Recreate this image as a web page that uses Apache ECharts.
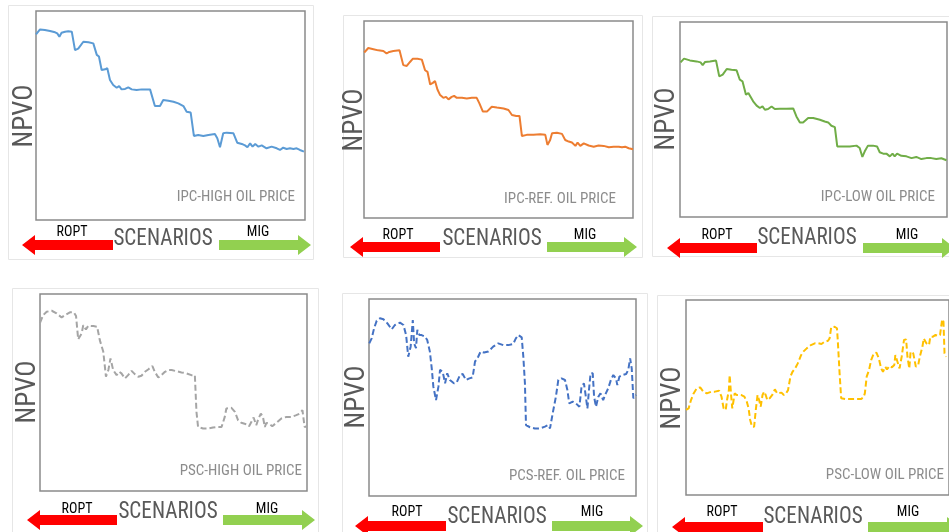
<!DOCTYPE html>
<html>
<head>
<meta charset="utf-8">
<script src="https://cdn.jsdelivr.net/npm/echarts@6/dist/echarts.min.js"></script>
<style>html,body{margin:0;padding:0;background:#fff}#c{width:949px;height:532px}</style>
</head>
<body>
<div id="c"></div>
<script>
// ---- DATA (scenario index 0-100, NPVO relative value 0-100) ----
var panelTitles = ["IPC-HIGH OIL PRICE","IPC-REF. OIL PRICE","IPC-LOW OIL PRICE","PSC-HIGH OIL PRICE","PCS-REF. OIL PRICE","PSC-LOW OIL PRICE"];
var yAxisName = "NPVO";
var xAxisName = "SCENARIOS";
var leftArrowLabel = "ROPT";
var rightArrowLabel = "MIG";

var scen1 = [0,1.5,3.3,5.2,7.1,7.9,8.7,9.5,10.8,12.0,13.3,14.5,15.7,17.6,19.5,21.3,22.6,23.4,24.4,25.7,26.5,27.5,28.7,30.0,30.9,31.8,33.1,34.3,35.6,37.4,39.3,41.1,42.4,44.2,46.1,47.3,49.2,51.1,52.9,54.8,56.0,57.5,58.7,60.3,62.2,64.1,66.5,67.4,68.4,69.6,70.9,73.4,74.8,76.5,77.7,78.6,79.6,80.5,81.5,82.7,83.9,85.7,87.6,89.5,90.7,91.9,93.2,94.4,95.7,96.9,98.1,99.6];
var npvo1 = [88.8,91.2,90.9,90.4,89.8,89.3,87.7,89.6,90.1,90.3,90.1,81.3,82.0,85.3,85.0,84.5,79.0,78.2,71.8,72.1,72.6,67.0,64.6,63.3,64.1,62.5,62.7,63.5,62.5,62.2,62.5,62.5,62.5,54.5,54.5,57.4,57.1,56.6,55.8,54.5,51.8,51.4,40.2,40.7,40.2,40.7,41.1,39.1,34.8,41.5,41.8,41.5,37.0,36.4,35.7,34.8,36.7,35.1,36.4,35.1,35.7,34.3,35.1,34.3,33.5,34.6,34.0,34.3,34.0,34.3,33.5,32.7];

var scen2 = [0.1,1.6,3.5,5.3,7.2,8.4,9.4,10.9,13.2,14.6,15.9,17.1,18.1,19.9,21.5,22.7,23.6,24.6,25.6,26.4,27.3,28.3,29.5,30.5,31.4,32.6,33.5,34.5,36.4,38.2,40.1,41.9,42.9,44.2,45.7,47.5,49.4,51.9,53.7,55.0,56.6,57.8,58.7,60.5,63.0,65.5,67.4,68.2,69.2,69.9,71.7,73.6,74.8,76.1,77.3,78.6,79.4,80.4,81.7,83.5,85.4,87.2,89.1,91.0,92.8,94.7,95.9,97.1,98.4,100];
var npvo2 = [84.0,86.3,85.7,85.1,84.8,83.5,84.3,84.8,85.1,77.6,77.2,79.2,80.8,80.8,80.4,75.0,74.2,67.8,68.6,69.5,65.2,62.4,61.0,61.5,60.2,61.5,62.0,61.0,61.0,60.7,61.0,61.0,58.2,54.0,54.0,56.5,56.1,55.6,54.8,52.3,51.8,51.8,41.6,42.2,42.2,42.5,42.2,37.1,39.6,43.0,43.3,42.7,39.6,38.8,38.3,36.6,38.3,36.6,37.9,36.8,36.2,36.8,36.6,35.9,36.2,36.2,35.9,36.2,35.4,34.9];

var scen3 = [0.2,1.5,3.7,6.2,7.7,8.5,9.4,11.2,13.5,14.7,16.0,17.5,19.3,21.2,22.4,23.4,24.7,25.6,26.2,27.4,28.7,29.9,30.9,31.8,33.0,34.3,35.5,37.4,39.9,42.4,43.6,44.9,46.1,48.0,49.9,52.4,54.2,55.5,56.7,58.0,58.9,61.1,63.6,66.1,67.3,68.3,69.2,70.4,72.3,73.8,74.8,76.1,77.3,78.6,79.6,80.4,81.3,82.9,84.8,86.7,88.5,90.4,92.3,94.1,96.0,97.9,99.8];
var npvo3 = [79.3,81.2,80.3,79.8,79.3,77.9,79.5,79.8,80.2,72.1,73.0,75.9,75.5,75.2,70.4,69.6,62.7,63.6,64.4,59.3,57.1,55.9,56.7,55.0,55.4,56.7,55.4,55.5,55.5,55.7,51.6,48.5,48.5,50.8,50.8,49.9,49.0,48.5,46.8,46.1,36.2,36.2,36.2,36.6,35.4,30.8,33.7,36.6,36.6,36.2,33.2,32.5,32.5,31.1,32.5,31.1,32.5,31.4,31.1,30.2,30.8,29.7,30.2,30.2,29.7,30.1,29.1];

var scen4 = [0,1.2,2.5,4.4,6.2,8.1,9.4,11.2,12.7,13.5,14.3,15.6,16.2,17.2,18.1,20.0,21.4,22.4,23.7,24.7,25.6,26.4,27.4,28.7,29.7,30.5,31.8,33.0,34.3,35.5,36.8,38.0,39.3,40.5,42.1,43.0,44.3,45.5,46.8,48.0,49.3,51.1,53.0,54.9,56.7,58.0,58.6,59.2,61.1,63.0,64.8,66.7,68.0,69.2,69.8,71.7,73.0,74.2,75.4,77.3,78.3,79.2,80.0,81.0,81.7,82.7,83.5,84.2,84.8,85.8,87.0,88.5,90.4,92.3,94.1,96.0,97.3,98.3,99.1,100];
var npvo4 = [85.4,89.3,91.0,91.5,90.2,88.1,89.3,90.7,90.7,88.8,77.0,80.0,84.2,82.0,83.9,83.7,83.4,76.6,70.7,58.0,61.4,67.3,61.4,58.8,60.5,59.7,57.1,58.8,61.0,59.3,58.0,58.5,60.5,61.7,63.4,60.5,57.6,58.8,60.5,61.4,61.4,60.8,60.2,59.7,58.8,58.8,40.2,32.5,31.7,31.7,32.2,32.5,32.5,37.6,41.9,42.2,40.2,35.9,34.6,33.9,32.9,35.1,37.3,33.4,36.3,39.3,37.6,32.5,34.6,34.2,32.9,34.6,36.8,37.6,37.6,38.5,39.3,41.0,32.5,32.9];

var scen5 = [0.1,1.0,1.9,2.9,4.1,5.4,6.9,8.5,9.7,11.6,12.9,13.9,14.7,15.6,16.4,16.9,17.6,18.1,18.9,19.7,21.0,21.8,22.8,23.5,24.1,25.1,26.0,26.6,27.6,28.5,29.3,30.3,31.0,31.8,32.8,34.1,35.1,36.3,37.6,38.8,39.7,40.9,41.8,43.1,44.7,46.5,48.4,50.3,52.2,54.0,55.0,55.9,57.2,57.8,58.4,58.8,60.3,62.1,64.0,65.9,67.1,67.8,68.8,70.0,70.9,72.1,73.4,74.3,75.0,76.3,77.5,78.8,79.6,80.5,81.3,81.8,82.5,83.0,83.8,84.3,85.0,85.9,86.7,87.7,88.7,89.6,90.6,91.5,92.5,93.0,93.8,95.0,96.3,97.1,97.8,98.4,99.0,100];
var npvo5 = [77.5,80.0,85.1,89.0,90.2,89.7,87.6,84.6,86.8,88.0,86.8,81.7,70.7,75.8,89.3,77.5,75.0,84.3,81.7,81.7,80.9,79.2,73.3,64.8,55.5,48.7,55.5,64.0,63.1,57.2,62.3,58.9,58.0,57.2,57.5,61.4,61.9,58.9,59.7,60.2,68.2,70.7,73.3,72.8,73.3,75.8,77.5,76.6,76.6,77.2,80.0,81.7,80.5,70.7,57.2,36.0,34.9,34.3,34.3,35.2,36.0,34.3,42.0,50.4,58.9,59.7,58.9,53.8,47.0,47.9,47.0,45.3,55.5,57.2,49.6,44.5,55.5,62.3,62.3,50.4,45.3,50.4,52.1,48.7,52.1,54.7,58.9,61.4,59.7,56.3,60.6,61.4,61.9,64.0,69.9,64.8,49.6,51.3];

var scen6 = [0,1.0,1.9,2.9,4.1,5.4,6.6,7.9,9.7,11.0,12.6,13.5,14.3,15.1,15.6,16.3,16.6,17.2,17.6,18.5,19.3,20.9,22.2,23.1,23.8,24.4,25.1,25.9,26.6,27.2,27.8,28.4,29.1,29.7,30.3,30.9,31.8,32.8,33.8,34.7,35.3,36.3,37.2,38.0,38.8,39.7,40.5,41.5,42.5,43.0,43.8,44.6,45.9,47.5,49.0,50.3,51.5,52.7,54.0,54.6,55.2,56.5,57.4,57.7,58.4,59.0,60.8,62.7,65.2,66.5,67.5,68.0,68.7,69.6,70.4,71.4,72.4,73.3,74.2,74.9,75.8,76.4,77.4,78.3,79.2,79.6,80.2,81.2,82.0,82.9,83.7,84.2,84.9,85.4,86.4,87.4,88.3,88.9,89.9,90.4,91.4,92.4,92.9,93.9,94.9,95.8,96.6,97.4,97.9,98.3,98.9];
var npvo6 = [43.6,44.4,48.7,52.1,54.7,55.2,53.0,52.1,53.0,53.0,53.5,50.4,44.4,43.6,48.7,53.8,61.5,50.4,44.4,52.1,51.3,51.3,50.4,47.9,44.4,38.5,35.0,35.0,44.4,51.3,48.7,45.3,51.3,53.0,51.3,48.7,49.6,51.3,54.2,52.1,51.3,52.5,51.3,52.1,53.8,60.7,63.2,64.9,67.5,68.4,71.8,73.5,75.2,76.9,77.8,77.8,77.4,78.6,79.1,80.3,86.0,86.3,85.5,79.5,62.4,49.6,49.2,49.2,49.2,49.2,50.1,52.1,60.7,64.1,69.2,72.6,73.0,70.1,64.9,63.2,65.8,64.4,66.2,65.5,66.7,71.8,72.6,64.9,70.9,79.5,79.8,70.9,64.9,73.5,72.6,65.8,66.7,70.9,76.1,80.3,77.8,76.9,81.2,81.2,82.1,81.5,82.1,90.1,88.9,72.6,70.9];

var seriesX = [scen1, scen2, scen3, scen4, scen5, scen6];
var seriesY = [npvo1, npvo2, npvo3, npvo4, npvo5, npvo6];

// ---- STYLES / LAYOUT ----
var lineColors = ['#5B9BD5','#ED7D31','#70AD47','#A5A5A5','#4472C4','#FFC000'];
var dashed = [false,false,false,true,true,true];
var layout = [
  {box:[36,11,269,209], frame:[8,5,305,254], npvo:[25,116], title:[295,197], ropt:[72,232], scen:[163,239], mig:[258,232], red:[22,113,245], green:[219,311,245]},
  {box:[364,21,269,197], frame:[343,15,299,242], npvo:[355,120], title:[616,199], ropt:[398,235], scen:[492,239], mig:[585,235], red:[350,440,247], green:[547,637,247]},
  {box:[680,22,267,195], frame:[652,16,310,240], npvo:[667,119], title:[935,197], ropt:[717,235], scen:[807,238], mig:[907,235], red:[667,757,248], green:[863,955,248]},
  {box:[40,294,267,197], frame:[12,288,306,260], npvo:[28,392], title:[302,471], ropt:[77,509], scen:[168,512], mig:[267,509], red:[27,117,520], green:[223,315,520]},
  {box:[369,299,267,197], frame:[342,293,305,260], npvo:[357,397], title:[625,476], ropt:[407,512], scen:[497,517], mig:[592,512], red:[355,446,526], green:[552,643,526]},
  {box:[686,300,267,195], frame:[657,295,310,260], npvo:[673,398], title:[944,475], ropt:[722,512], scen:[813,517], mig:[908,512], red:[672,763,527], green:[868,960,527]}
];
var NARROW = '"Liberation Sans Narrow","Arial Narrow","Roboto Condensed","Liberation Sans",sans-serif';

function leftArrow(a){var x0=a[0],x1=a[1],y=a[2];return [[x0,y],[x0+13,y-10],[x0+13,y-5],[x1,y-5],[x1,y+5],[x0+13,y+5],[x0+13,y+10]];}
function rightArrow(a){var x0=a[0],x1=a[1],y=a[2];return [[x1,y],[x1-13,y-10],[x1-13,y-5],[x0,y-5],[x0,y+5],[x1-13,y+5],[x1-13,y+10]];}

var grids=[], xAxes=[], yAxes=[], series=[], graphics=[];
layout.forEach(function(L,i){
  graphics.push({type:'rect', z:-10, shape:{x:L.frame[0]+0.5,y:L.frame[1]+0.5,width:L.frame[2],height:L.frame[3]}, style:{fill:'#fff',stroke:'#e6e6e6',lineWidth:1}});
  grids.push({left:L.box[0], top:L.box[1], width:L.box[2], height:L.box[3], show:true, borderColor:'#8a8a8a', borderWidth:1.5, backgroundColor:'transparent', containLabel:false});
  xAxes.push({type:'value', gridIndex:i, min:0, max:100, show:false});
  yAxes.push({type:'value', gridIndex:i, min:0, max:100, show:false});
  var d = seriesX[i].map(function(x,k){return [x, seriesY[i][k]];});
  series.push({type:'line', xAxisIndex:i, yAxisIndex:i, data:d, showSymbol:false, symbol:'none',
    lineStyle:{color:lineColors[i], width:2, type: dashed[i] ? [6,3] : 'solid'}, z:3});
  graphics.push({type:'text', x:L.title[0], y:L.title[1], style:{text:panelTitles[i], fill:'#8c8c8c', font:'15px '+NARROW, align:'right', verticalAlign:'middle'}});
  graphics.push({type:'text', x:L.npvo[0], y:L.npvo[1], rotation:Math.PI/2, style:{text:yAxisName, fill:'#595959', font:'27px '+NARROW, align:'center', verticalAlign:'middle'}});
  graphics.push({type:'text', x:L.scen[0], y:L.scen[1], scaleX:0.92, style:{text:xAxisName, fill:'#595959', font:'23px '+NARROW, align:'center', verticalAlign:'middle'}});
  graphics.push({type:'text', x:L.ropt[0], y:L.ropt[1], style:{text:leftArrowLabel, fill:'#000', font:'14px '+NARROW, align:'center', verticalAlign:'middle'}});
  graphics.push({type:'text', x:L.mig[0], y:L.mig[1], style:{text:rightArrowLabel, fill:'#000', font:'14px '+NARROW, align:'center', verticalAlign:'middle'}});
  graphics.push({type:'polygon', shape:{points:leftArrow(L.red)}, style:{fill:'#FF0000'}});
  graphics.push({type:'polygon', shape:{points:rightArrow(L.green)}, style:{fill:'#92D050'}});
});

var chart = echarts.init(document.getElementById('c'), null, {renderer:'canvas'});
chart.setOption({
  animation:false,
  backgroundColor:'#fff',
  grid:grids, xAxis:xAxes, yAxis:yAxes, series:series,
  graphic:{elements:graphics}
});
</script>
</body>
</html>
